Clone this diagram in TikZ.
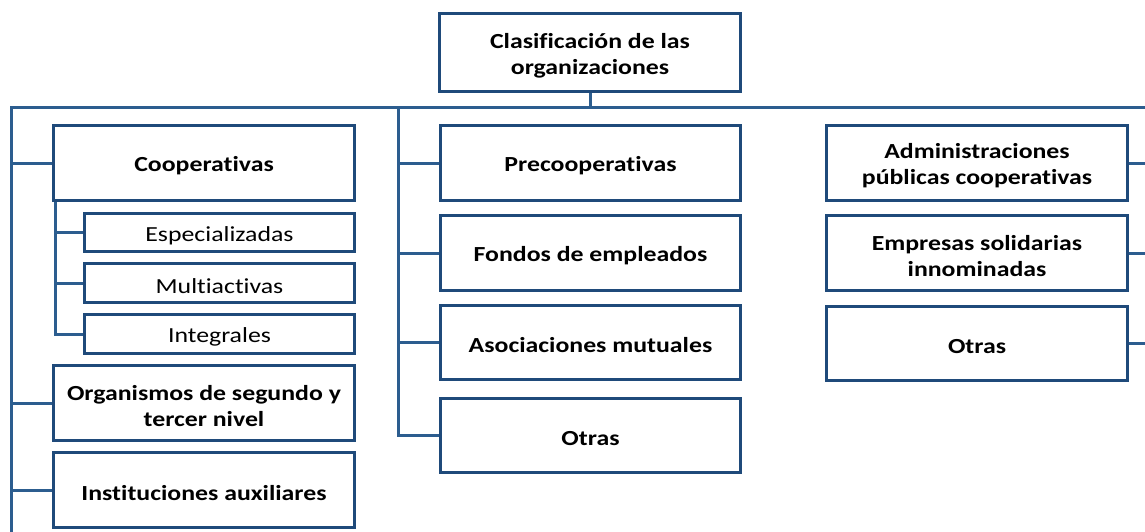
\documentclass[tikz,border=0pt]{standalone}
\usepackage{fontspec}
\setmainfont{Carlito}[FakeStretch=1.2, Ligatures=CommonOff]
\usetikzlibrary{calc}
\definecolor{boxc}{HTML}{1F4A7A}
\definecolor{linec}{HTML}{2C5D8F}
\begin{document}
\begin{tikzpicture}[x=1pt,y=-1pt,
  box/.style={fill=white, inner sep=0pt, align=center,
    font=\fontsize{21.5}{26}\selectfont\bfseries, text=black},
  big/.style={box, minimum width=300pt, minimum height=74pt},
  sub/.style={box, font=\fontsize{21.5}{26}\selectfont, minimum width=270pt, minimum height=38pt},
  conn/.style={draw=linec, line width=3pt},
  frame/.style={draw=boxc, line width=2.8pt}]
\useasboundingbox (0,0) rectangle (1145,531);
\clip (0,0) rectangle (1145,531);
\fill[white] (0,0) rectangle (1145,531);
% nodes (text centres sit 3px below the box centres; frame anchors are moved back up)
\node[box, minimum width=300pt, minimum height=78pt] (root) at (590,55.5) {Clasificación de las\\organizaciones};
\node[big] (coop) at (204,166) {Cooperativas};
\node[sub] (esp) at (219.5,235.5) {Especializadas};
\node[sub] (mul) at (219.5,286) {Multiactivas};
\node[sub] (int) at (219.5,337) {Integrales};
\node[big] (org) at (204,406) {Organismos de segundo y\\tercer nivel};
\node[big] (ins) at (204,493) {Instituciones auxiliares};
\node[big] (pre) at (590.5,166) {Precooperativas};
\node[big] (fon) at (590.5,256) {Fondos de empleados};
\node[big] (aso) at (590.5,345.5) {Asociaciones mutuales};
\node[big] (otm) at (590.5,438.5) {Otras};
\node[big] (adm) at (977,166) {Administraciones\\públicas cooperativas};
\node[big] (emp) at (977,256) {Empresas solidarias\\innominadas};
\node[big] (otr) at (977,346.5) {Otras};
\foreach \n in {root,coop,esp,mul,int,org,ins,pre,fon,aso,otm,adm,emp,otr}{
  \coordinate (\n-w) at ($(\n.west)+(0,-3)$);
  \coordinate (\n-e) at ($(\n.east)+(0,-3)$);
  \coordinate (\n-s) at ($(\n.south)+(0,-3)$);
  \coordinate (\n-sw) at ($(\n.south west)+(0,-3)$);
  \coordinate (\n-ne) at ($(\n.north east)+(0,-3)$);
}
% trunk coordinates
\coordinate (barL) at (10,107);
\coordinate (barR) at (1150,107);
\coordinate (tl) at (11,107);
\coordinate (tlend) at (11,545);
\coordinate (st) at (55,200);
\coordinate (mt) at (398,107);
\coordinate (rt) at (1147,107);
% connectors
\draw[conn] (root-s) -- (root-s |- barL);
\draw[conn] (barL) -- (barR);
\draw[conn] (tl) -- (tlend);
\draw[conn] (tl |- coop-w) -- (coop-w);
\draw[conn] (tl |- org-w) -- (org-w);
\draw[conn] (tl |- ins-w) -- (ins-w);
\draw[conn] (st) |- (int-w);
\draw[conn] (st |- esp-w) -- (esp-w);
\draw[conn] (st |- mul-w) -- (mul-w);
\draw[conn] (mt) |- (otm-w);
\draw[conn] (mt |- pre-w) -- (pre-w);
\draw[conn] (mt |- fon-w) -- (fon-w);
\draw[conn] (mt |- aso-w) -- (aso-w);
\draw[conn] (rt) |- (otr-e);
\draw[conn] (rt |- adm-e) -- (adm-e);
\draw[conn] (rt |- emp-e) -- (emp-e);
% box frames
\foreach \n in {root,coop,esp,mul,int,org,ins,pre,fon,aso,otm,adm,emp,otr}
  \draw[frame] (\n-sw) rectangle (\n-ne);
\end{tikzpicture}
\end{document}
